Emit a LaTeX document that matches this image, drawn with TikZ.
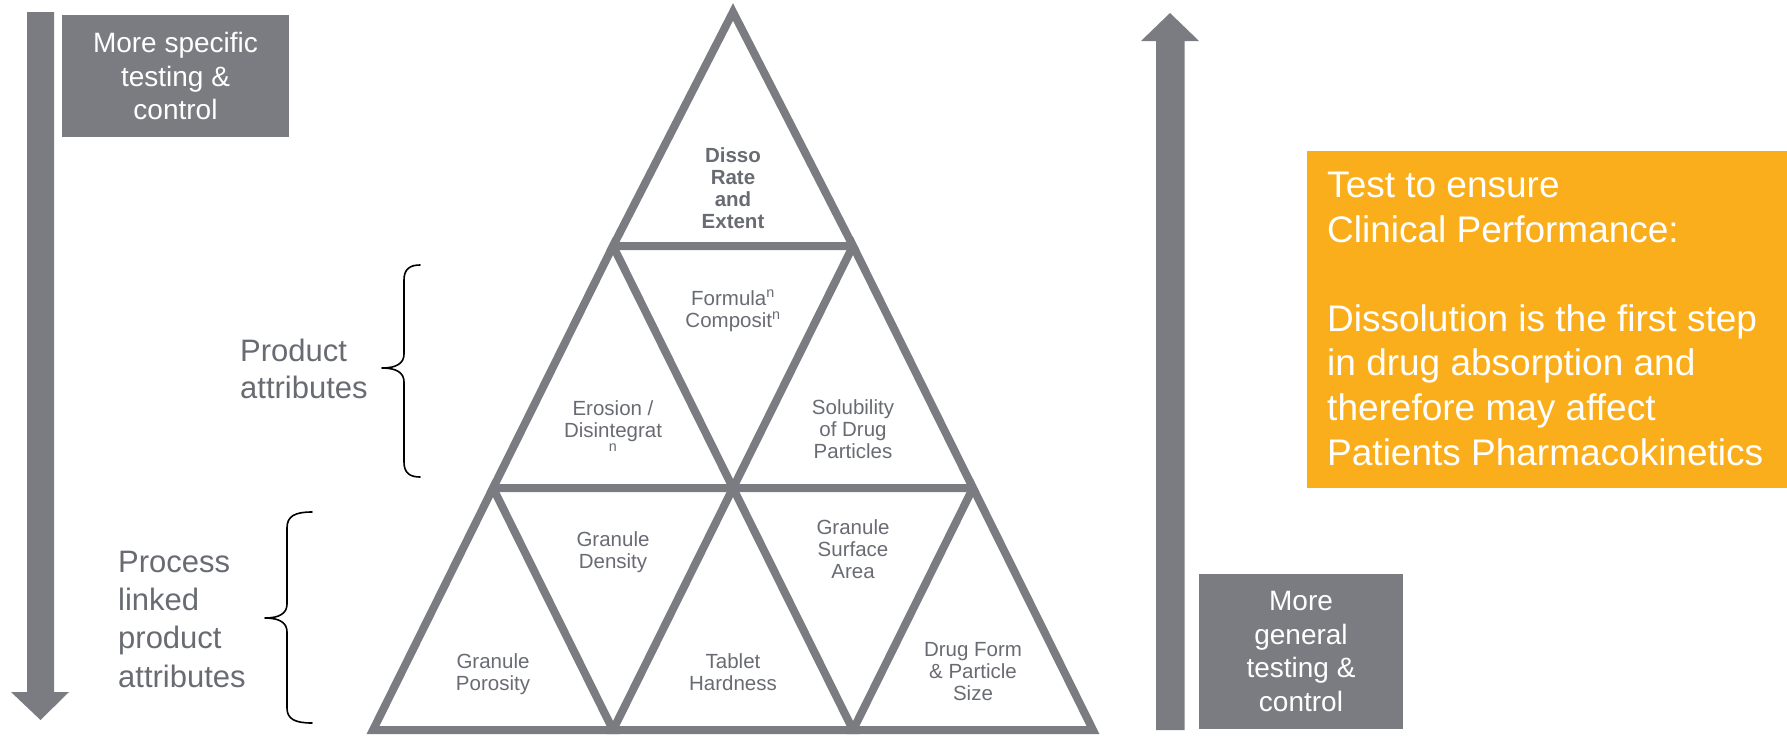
\documentclass[tikz,border=0pt]{standalone}
\usepackage{fontspec}
\setmainfont{Liberation Sans}
\definecolor{slate}{RGB}{122,124,130}
\definecolor{slatetext}{RGB}{104,107,114}
\definecolor{amber}{RGB}{251,174,27}

\begin{document}
\begin{tikzpicture}[x=1pt,y=-1pt,
  edge/.style={draw=slate, line width=8pt, line join=miter},
  blockarrow/.style={fill=slate, draw=none},
  greybox/.style={fill=slate, draw=none, text=white, align=center, inner sep=0pt,
    font=\fontsize{28}{33.5}\selectfont},
  cell/.style={anchor=base, align=center, text=slatetext, inner sep=0pt,
    font=\fontsize{20.5}{22}\selectfont},
  sidelabel/.style={anchor=base west, align=left, text=slatetext, inner sep=0pt},
  bracepen/.style={draw=black, line width=1.6pt, line cap=round, line join=round},
]
\useasboundingbox (0,0) rectangle (1787,737);

% ---- direction arrows ----
\fill[blockarrow] (27,12) -- (54,12) -- (54,692) -- (69,692) -- (40.5,720)
  -- (11,692) -- (27,692) -- cycle;
\fill[blockarrow] (1156,730) -- (1184.5,730) -- (1184.5,41) -- (1199,41)
  -- (1170,13) -- (1141,41) -- (1156,41) -- cycle;

% ---- grey captions ----
\node[greybox, minimum width=227pt, minimum height=122pt] (specific) at (175.5,76)
  {More specific\\testing \&\\control};
\node[greybox, minimum width=204pt, minimum height=155pt] (general) at (1301,651.5)
  {More\\general\\testing \&\\control};

% ---- clinical performance panel ----
% (multi-line nodes below are placed by the baseline of their last line)
\node[fill=amber, draw=none, minimum width=480pt, minimum height=337pt,
  anchor=north west, inner sep=0pt] (panel) at (1307,151) {};
\node[anchor=base west, align=left, text=white, inner sep=0pt,
  font=\fontsize{37}{44.6}\selectfont] (paneltext) at (1327,465)
  {Test to ensure\\Clinical Performance:\\[44.6pt]Dissolution is the first step\\
   in drug absorption and\\therefore may affect\\Patients Pharmacokinetics};

% ---- pyramid vertices ----
\coordinate (p0) at (733,12);
\coordinate (a1) at (613,246);  \coordinate (b1) at (853,246);
\coordinate (a2) at (493,488);  \coordinate (b2) at (733,488);  \coordinate (c2) at (973,488);
\coordinate (a3) at (373,730);  \coordinate (b3) at (613,730);
\coordinate (c3) at (853,730);  \coordinate (d3) at (1093,730);

\draw[edge] (p0) -- (a1) -- (b1) -- cycle;
\draw[edge] (a1) -- (a2) -- (b2) -- cycle;
\draw[edge] (b1) -- (b2) -- (c2) -- cycle;
\draw[edge] (a2) -- (a3) -- (b3) -- cycle;
\draw[edge] (b2) -- (b3) -- (c3) -- cycle;
\draw[edge] (c2) -- (c3) -- (d3) -- cycle;

% ---- pyramid labels ----
\node[cell, font=\fontsize{20.5}{22}\selectfont\bfseries] (disso) at (733,228)
  {Disso\\Rate\\and\\Extent};
\node[cell] (formula) at (733,327)
  {Formula\textsuperscript{n}\\Composit\textsuperscript{n}};
\node[cell] (erosion) at (613,459)
  {Erosion /\\Disintegrat\\\textsuperscript{n}};
\node[cell] (solubility) at (853,458) {Solubility\\of Drug\\Particles};
\node[cell] (density) at (613,568) {Granule\\Density};
\node[cell] (surface) at (853,578) {Granule\\Surface\\Area};
\node[cell] (porosity) at (493,690) {Granule\\Porosity};
\node[cell] (hardness) at (733,690) {Tablet\\Hardness};
\node[cell] (drugform) at (973,700) {Drug Form\\\& Particle\\Size};

% ---- attribute groups ----
\node[sidelabel, font=\fontsize{31}{36.5}\selectfont] (product) at (240,398)
  {Product\\attributes};
\node[sidelabel, font=\fontsize{31}{38.3}\selectfont] (process) at (118,687)
  {Process\\linked\\product\\attributes};

\draw[bracepen] (420,265) .. controls (410,265) and (404,269) .. (404,280)
  -- (404,354) .. controls (404,363) and (397,368) .. (382,368)
  .. controls (397,368) and (404,373) .. (404,382)
  -- (404,462) .. controls (404,473) and (410,477) .. (420,477);
\draw[bracepen] (312,512) .. controls (295,512) and (287,516) .. (287,528)
  -- (287,604) .. controls (287,613) and (280,618) .. (265,618)
  .. controls (280,618) and (287,623) .. (287,632)
  -- (287,708) .. controls (287,719) and (295,723) .. (312,723);
\end{tikzpicture}
\end{document}
